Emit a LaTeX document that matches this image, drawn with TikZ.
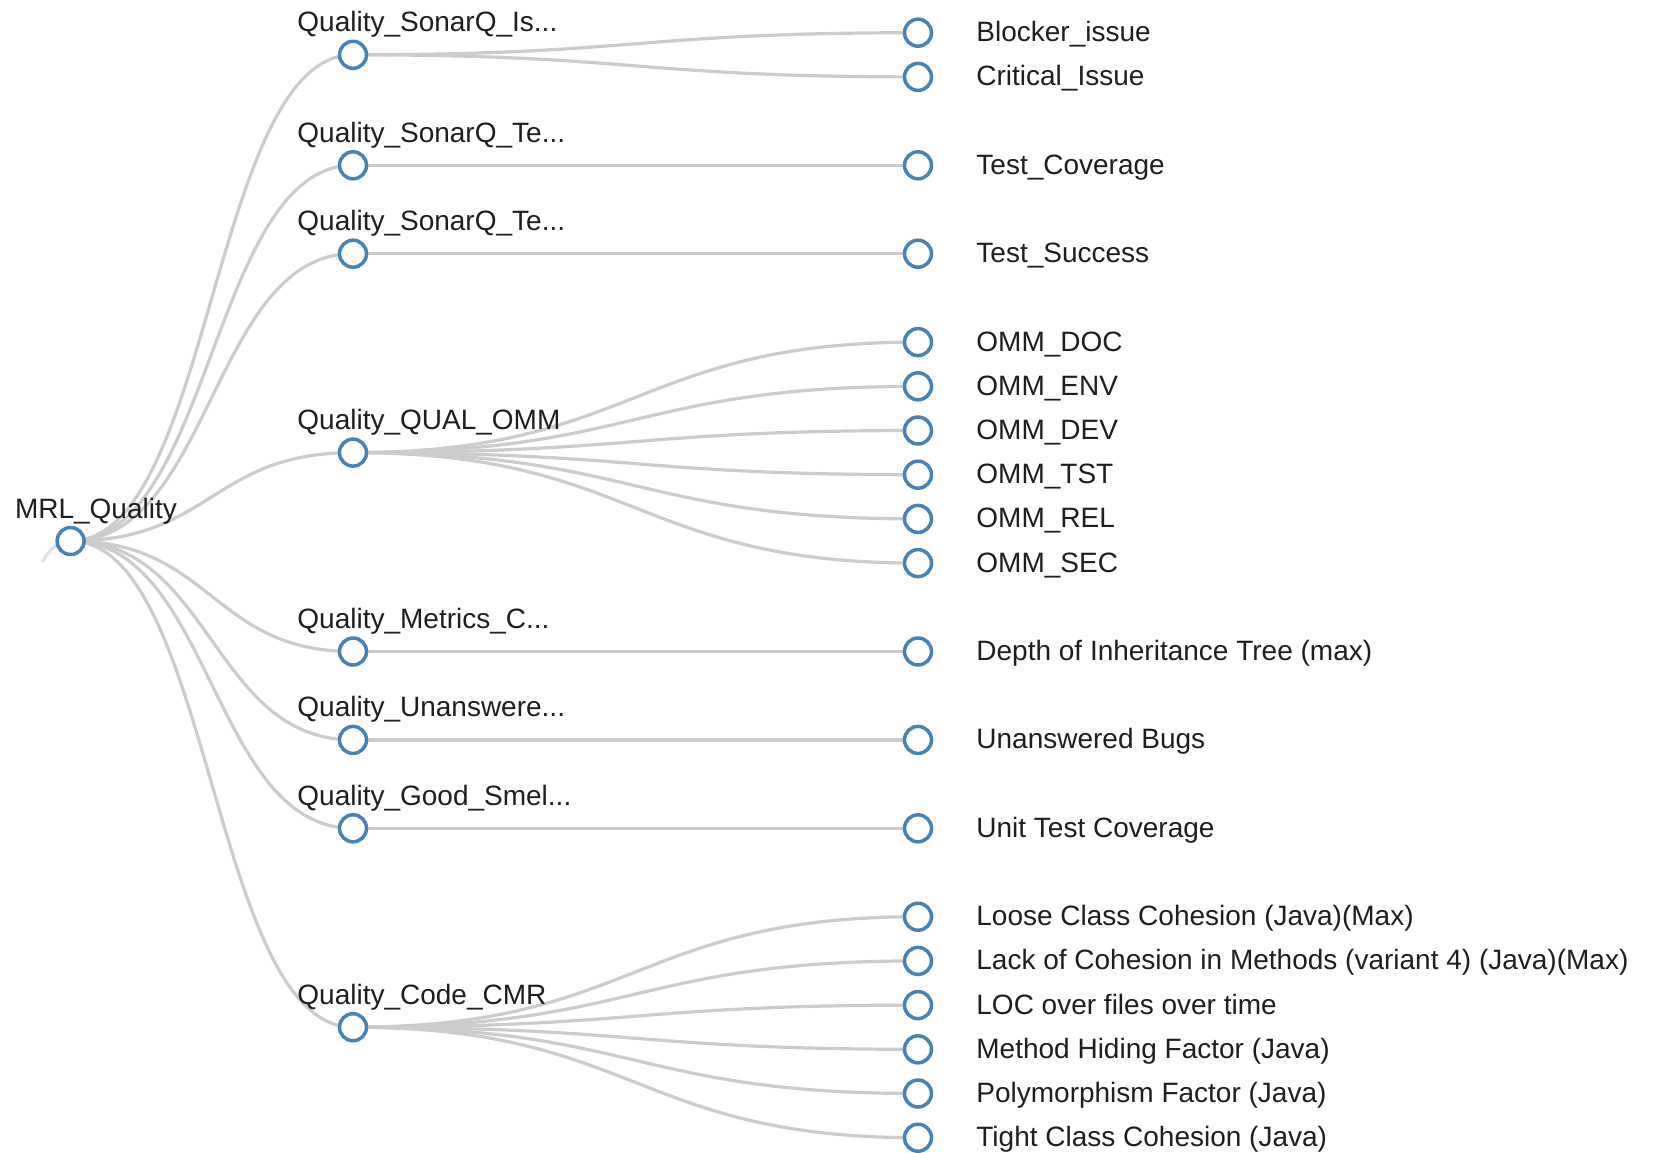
\documentclass[tikz,border=0pt]{standalone}
\usepackage{fontspec}
\setmainfont{Liberation Sans}
\usetikzlibrary{calc,backgrounds}

\definecolor{linkgray}{HTML}{CCCCCC}
\definecolor{steel}{HTML}{4682B4}
\definecolor{ink}{HTML}{1E1E1E}

\tikzset{
  treenode/.style={circle, draw=steel, fill=white, line width=1.75pt,
                   inner sep=0pt, minimum size=13.5pt},
  treelink/.style={draw=linkgray, line width=1.6pt},
  innerlbl/.style={anchor=base west, inner sep=0pt, text=ink, font=\fontsize{14pt}{16pt}\selectfont},
  leaflbl/.style={anchor=base west, inner sep=0pt, text=ink, font=\fontsize{14pt}{16pt}\selectfont},
}

% horizontal tree link: cubic curve with both controls at the mid x
\newcommand\treeedge[2]{%
  \draw[treelink] let \p1=(#1.center), \p2=(#2.center) in
    (\p1) .. controls ({0.5*\x1+0.5*\x2},\y1) and ({0.5*\x1+0.5*\x2},\y2) .. (\p2);}

\begin{document}
\begin{tikzpicture}[x=0.5pt, y=-0.5pt]
\useasboundingbox (0,0) rectangle (1653,1152);

% root
\node[treenode] (root) at (70.6,541) {};

% first level
\node[treenode] (sqis)  at (353,54.8)   {};
\node[treenode] (sqte1) at (353,165.3)  {};
\node[treenode] (sqte2) at (353,253.7)  {};
\node[treenode] (omm)   at (353,452.6)  {};
\node[treenode] (metr)  at (353,651.5)  {};
\node[treenode] (unan)  at (353,739.9)  {};
\node[treenode] (good)  at (353,828.3)  {};
\node[treenode] (cmr)   at (353,1027.2) {};

% leaves
\node[treenode] (blk)  at (918,32.7)   {};
\node[treenode] (crit) at (918,76.9)   {};
\node[treenode] (tcov) at (918,165.3)  {};
\node[treenode] (tsuc) at (918,253.7)  {};
\node[treenode] (odoc) at (918,342.1)  {};
\node[treenode] (oenv) at (918,386.3)  {};
\node[treenode] (odev) at (918,430.5)  {};
\node[treenode] (otst) at (918,474.7)  {};
\node[treenode] (orel) at (918,518.9)  {};
\node[treenode] (osec) at (918,563.1)  {};
\node[treenode] (dit)  at (918,651.5)  {};
\node[treenode] (ubug) at (918,739.9)  {};
\node[treenode] (utc)  at (918,828.3)  {};
\node[treenode] (lcc)  at (918,916.7)  {};
\node[treenode] (lcom) at (918,960.9)  {};
\node[treenode] (loc)  at (918,1005.1) {};
\node[treenode] (mhf)  at (918,1049.3) {};
\node[treenode] (pf)   at (918,1093.5) {};
\node[treenode] (tcc)  at (918,1137.7) {};

% links, kept behind the circles
\begin{scope}[on background layer]
  \coordinate (upstream) at (42,562);
  \draw[treelink, draw opacity=0.6] (upstream) .. controls (50,549) and (58,541) .. (root.center);
  \foreach \c in {sqis,sqte1,sqte2,omm,metr,unan,good,cmr} {\treeedge{root}{\c}}
  \foreach \c in {blk,crit} {\treeedge{sqis}{\c}}
  \treeedge{sqte1}{tcov}
  \treeedge{sqte2}{tsuc}
  \foreach \c in {odoc,oenv,odev,otst,orel,osec} {\treeedge{omm}{\c}}
  \treeedge{metr}{dit}
  \treeedge{unan}{ubug}
  \treeedge{good}{utc}
  \foreach \c in {lcc,lcom,loc,mhf,pf,tcc} {\treeedge{cmr}{\c}}
\end{scope}

% labels of root and first level
\node[innerlbl] (lroot)  at ([shift={(-56,-23)}]root.center)  {MRL\_Quality};
\node[innerlbl] (lsqis)  at ([shift={(-56,-23)}]sqis.center)  {Quality\_SonarQ\_Is...};
\node[innerlbl] (lsqte1) at ([shift={(-56,-23)}]sqte1.center) {Quality\_SonarQ\_Te...};
\node[innerlbl] (lsqte2) at ([shift={(-56,-23)}]sqte2.center) {Quality\_SonarQ\_Te...};
\node[innerlbl] (lomm)   at ([shift={(-56,-23)}]omm.center)   {Quality\_QUAL\_OMM};
\node[innerlbl] (lmetr)  at ([shift={(-56,-23)}]metr.center)  {Quality\_Metrics\_C...};
\node[innerlbl] (lunan)  at ([shift={(-56,-23)}]unan.center)  {Quality\_Unanswere...};
\node[innerlbl] (lgood)  at ([shift={(-56,-23)}]good.center)  {Quality\_Good\_Smel...};
\node[innerlbl] (lcmr)   at ([shift={(-56,-23)}]cmr.center)   {Quality\_Code\_CMR};

% leaf labels
\node[leaflbl] (tblk)  at ([shift={(58,9)}]blk.center)  {Blocker\_issue};
\node[leaflbl] (tcrit) at ([shift={(58,9)}]crit.center) {Critical\_Issue};
\node[leaflbl] (ttcov) at ([shift={(58,9)}]tcov.center) {Test\_Coverage};
\node[leaflbl] (ttsuc) at ([shift={(58,9)}]tsuc.center) {Test\_Success};
\node[leaflbl] (todoc) at ([shift={(58,9)}]odoc.center) {OMM\_DOC};
\node[leaflbl] (toenv) at ([shift={(58,9)}]oenv.center) {OMM\_ENV};
\node[leaflbl] (todev) at ([shift={(58,9)}]odev.center) {OMM\_DEV};
\node[leaflbl] (totst) at ([shift={(58,9)}]otst.center) {OMM\_TST};
\node[leaflbl] (torel) at ([shift={(58,9)}]orel.center) {OMM\_REL};
\node[leaflbl] (tosec) at ([shift={(58,9)}]osec.center) {OMM\_SEC};
\node[leaflbl] (tdit)  at ([shift={(58,9)}]dit.center)  {Depth of Inheritance Tree (max)};
\node[leaflbl] (tubug) at ([shift={(58,9)}]ubug.center) {Unanswered Bugs};
\node[leaflbl] (tutc)  at ([shift={(58,9)}]utc.center)  {Unit Test Coverage};
\node[leaflbl] (tlcc)  at ([shift={(58,9)}]lcc.center)  {Loose Class Cohesion (Java)(Max)};
\node[leaflbl] (tlcom) at ([shift={(58,9)}]lcom.center) {Lack of Cohesion in Methods (variant 4) (Java)(Max)};
\node[leaflbl] (tloc)  at ([shift={(58,9)}]loc.center)  {LOC over files over time};
\node[leaflbl] (tmhf)  at ([shift={(58,9)}]mhf.center)  {Method Hiding Factor (Java)};
\node[leaflbl] (tpf)   at ([shift={(58,9)}]pf.center)   {Polymorphism Factor (Java)};
\node[leaflbl] (ttcc)  at ([shift={(58,9)}]tcc.center)  {Tight Class Cohesion (Java)};
\end{tikzpicture}
\end{document}
